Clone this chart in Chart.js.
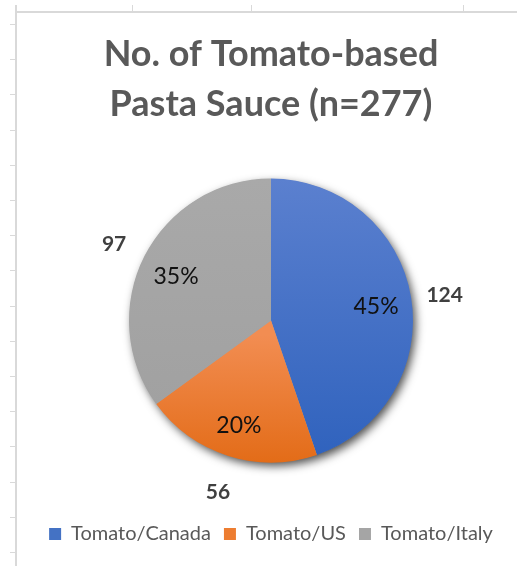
<!DOCTYPE html>
<html>
<head>
<meta charset="utf-8">
<script src="https://cdn.jsdelivr.net/npm/chart.js@4/dist/chart.umd.min.js"></script>
<style>
  html, body { margin: 0; padding: 0; background: #ffffff; }
  #wrap { width: 517px; height: 566px; position: relative; }
</style>
</head>
<body>
<div id="wrap"><canvas id="pieChart"></canvas></div>
<script>
const categories = ["Tomato/Canada", "Tomato/US", "Tomato/Italy"];
const counts = [124, 56, 97];
const titleLines = ["No. of Tomato-based", "Pasta Sauce (n=277)"];

const flatColors = ["#4472c4", "#ed7d31", "#a5a5a5"];
const gradientStops = [
  [[0, "#5b80cf"], [1, "#2f62bd"]],
  [[0.55, "#f28d52"], [1, "#e36c18"]],
  [[0, "#a9a9a9"], [1, "#9f9f9f"]],
];

const PIE_RADIUS = 142;
const total = counts.reduce((a, b) => a + b, 0);

// spreadsheet grid behind the chart object
const sheetFrame = {
  id: "sheetFrame",
  beforeDraw(chart) {
    const ctx = chart.ctx;
    ctx.save();
    ctx.fillStyle = "#ffffff";
    ctx.fillRect(0, 0, chart.width, chart.height);
    ctx.strokeStyle = "#d9d9d9";
    ctx.lineWidth = 2;
    ctx.beginPath();
    ctx.moveTo(16, 5);
    ctx.lineTo(16, chart.height);
    ctx.moveTo(16, 12);
    ctx.lineTo(chart.width, 12);
    ctx.stroke();
    ctx.lineWidth = 1;
    ctx.beginPath();
    [132, 251, 463].forEach((x) => {
      ctx.moveTo(x + 0.5, 5);
      ctx.lineTo(x + 0.5, 11);
    });
    for (let y = 24; y < chart.height; y += 35.2) {
      const yy = Math.round(y) + 0.5;
      ctx.moveTo(10, yy);
      ctx.lineTo(15, yy);
    }
    ctx.stroke();
    ctx.restore();
  },
};

// soft outer shadow under the pie
const pieShadow = {
  id: "pieShadow",
  beforeDatasetsDraw(chart) {
    const arc = chart.getDatasetMeta(0).data[0];
    if (!arc) return;
    const ctx = chart.ctx;
    ctx.save();
    ctx.shadowColor = "rgba(0, 0, 0, 0.7)";
    ctx.shadowBlur = 10;
    ctx.shadowOffsetX = 3;
    ctx.shadowOffsetY = 4;
    ctx.fillStyle = "#a0a0a0";
    ctx.beginPath();
    ctx.arc(arc.x, arc.y, arc.outerRadius - 0.5, 0, Math.PI * 2);
    ctx.fill();
    ctx.restore();
  },
};

// percentage inside, count outside
const sliceLabels = {
  id: "sliceLabels",
  afterDatasetsDraw(chart) {
    const ctx = chart.ctx;
    const meta = chart.getDatasetMeta(0);
    const dy = 4;
    ctx.save();
    ctx.textAlign = "center";
    ctx.textBaseline = "middle";
    meta.data.forEach((arc, i) => {
      const mid = (arc.startAngle + arc.endAngle) / 2;
      const r = arc.outerRadius;
      const pct = Math.round((counts[i] / total) * 100) + "%";
      ctx.font = "23px Lato";
      ctx.fillStyle = "#111111";
      ctx.fillText(pct, arc.x + Math.cos(mid) * r * 0.75, arc.y + dy + Math.sin(mid) * r * 0.75);
      ctx.font = "bold 21px Lato";
      ctx.fillStyle = "#404040";
      ctx.fillText(String(counts[i]), arc.x + Math.cos(mid) * r * 1.24, arc.y + dy + Math.sin(mid) * r * 1.24);
    });
    ctx.restore();
  },
};

function sliceFill(context) {
  const chart = context.chart;
  const area = chart.chartArea;
  const i = context.dataIndex;
  if (!area) return flatColors[i];
  const cy = (area.top + area.bottom) / 2;
  const g = chart.ctx.createLinearGradient(0, cy - PIE_RADIUS, 0, cy + PIE_RADIUS);
  gradientStops[i].forEach(([pos, col]) => g.addColorStop(pos, col));
  return g;
}

new Chart(document.getElementById("pieChart").getContext("2d"), {
  type: "pie",
  data: {
    labels: categories,
    datasets: [
      {
        data: counts,
        backgroundColor: sliceFill,
        borderWidth: 0,
        radius: PIE_RADIUS,
      },
    ],
  },
  options: {
    responsive: true,
    maintainAspectRatio: false,
    animation: false,
    layout: { padding: { left: 25, right: 0, top: 0, bottom: 12 } },
    plugins: {
      title: {
        display: true,
        text: titleLines,
        color: "#595959",
        font: { family: "Lato", size: 36, weight: "bold", lineHeight: "50px" },
        padding: { top: 29, bottom: 1 },
      },
      legend: {
        position: "bottom",
        labels: {
          color: "#595959",
          font: { family: "Lato", size: 20 },
          boxWidth: 12,
          boxHeight: 12,
          padding: 13,
          generateLabels: (chart) =>
            Chart.overrides.pie.plugins.legend.labels
              .generateLabels(chart)
              .map((item, i) => ({ ...item, fillStyle: flatColors[i], strokeStyle: flatColors[i], lineWidth: 0 })),
        },
      },
      tooltip: { enabled: false },
    },
  },
  plugins: [sheetFrame, pieShadow, sliceLabels],
});
</script>
</body>
</html>
